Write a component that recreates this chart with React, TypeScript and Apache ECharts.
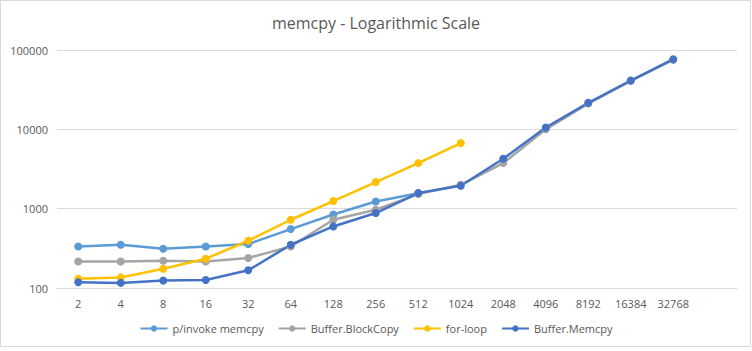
import React, { useEffect, useRef } from "react";
import * as echarts from "echarts";

const categories = ["2", "4", "8", "16", "32", "64", "128", "256", "512", "1024", "2048", "4096", "8192", "16384", "32768", ""];
const pinvoke = [334, 351, 313, 334, 358, 553, 845, 1233, 1560];
const blockCopy = [216, 216, 221, 216, 239, 334, 725, 968, 1527, 2000, 3750, 10000, 21100, 40800, 75100];
const forLoop = [131, 136, 175, 234, 394, 725, 1247, 2163, 3750, 6700];
const memcpy = [118, 116, 124, 126, 167, 351, 597, 881, 1572, 1942, 4250, 10540, 21600, 41200, 76600];
const seriesNames = ["p/invoke memcpy", "Buffer.BlockCopy", "for-loop", "Buffer.Memcpy"];
const colors = ["#5B9BD5", "#A5A5A5", "#FFC000", "#4472C4"];

export default function App() {
  const ref = useRef<HTMLDivElement>(null);
  useEffect(() => {
    if (!ref.current) return;
    const chart = echarts.init(ref.current, undefined, { renderer: "svg" });
    const data = [pinvoke, blockCopy, forLoop, memcpy];
    chart.setOption({
      animation: false,
      backgroundColor: "#ffffff",
      textStyle: { fontFamily: "Open Sans" },
      title: {
        text: "memcpy - Logarithmic Scale",
        left: "center",
        top: 10,
        textStyle: { fontSize: 16, fontWeight: "normal", color: "#595959", fontFamily: "Open Sans" },
      },
      graphic: [
        {
          type: "rect",
          shape: { x: 0.5, y: 0.5, width: 750, height: 346 },
          style: { fill: "none", stroke: "#D9D9D9", lineWidth: 1 },
          silent: true,
        },
      ],
      legend: {
        bottom: 12,
        left: "center",
        itemWidth: 27,
        itemHeight: 8,
        itemGap: 14,
        textStyle: { color: "#595959", fontSize: 11, fontFamily: "Open Sans" },
        data: seriesNames,
      },
      grid: { left: 57, right: 15, top: 50, bottom: 63, containLabel: false },
      xAxis: {
        type: "category",
        data: categories,
        boundaryGap: true,
        axisLine: { show: true, lineStyle: { color: "#D9D9D9" } },
        axisTick: { show: false },
        axisLabel: { color: "#595959", fontSize: 11, margin: 10, interval: 0 },
      },
      yAxis: {
        type: "log",
        logBase: 10,
        min: 100,
        max: 100000,
        axisLine: { show: false },
        axisTick: { show: false },
        splitLine: { lineStyle: { color: "#D9D9D9" } },
        axisLabel: { color: "#595959", fontSize: 11, margin: 9, formatter: (v: number) => String(Math.round(v)) },
      },
      series: data.map((d, i) => ({
        name: seriesNames[i],
        type: "line",
        data: d,
        symbol: "circle",
        symbolSize: 8,
        lineStyle: { width: 2.5, color: colors[i] },
        itemStyle: { color: colors[i] },
      })),
    });
    return () => chart.dispose();
  }, []);
  return <div ref={ref} style={{ width: 752, height: 351, position: "absolute", left: 0, top: 0 }} />;
}
